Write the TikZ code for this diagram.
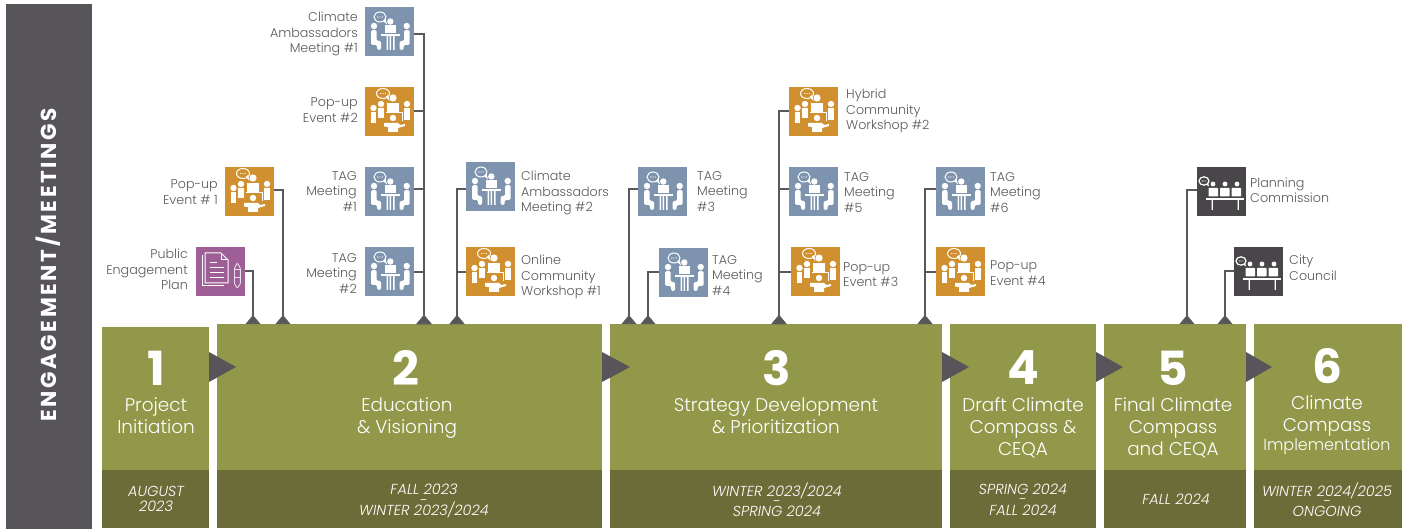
\documentclass[tikz,border=0pt]{standalone}
\usepackage{fontspec}
\setmainfont{Poppins}[UprightFont=* Light,ItalicFont=* Light Italic,BoldFont=* SemiBold]
\newfontfamily\heavyf{Poppins Bold}
\usetikzlibrary{arrows.meta}
\definecolor{side}{HTML}{58555A}
\definecolor{pgreen}{HTML}{929849}
\definecolor{pdark}{HTML}{6C6C38}
\definecolor{iblue}{HTML}{7D93AE}
\definecolor{iorange}{HTML}{D09030}
\definecolor{ipurple}{HTML}{9D5F96}
\definecolor{idark}{HTML}{484648}
\definecolor{txt}{HTML}{5A585C}
\tikzset{
  x=1pt,y=-1pt,
  iconbox/.style={rectangle,minimum width=49pt,minimum height=49pt,inner sep=0pt,outer sep=0pt,anchor=north west},
  conn/.style={draw=txt,line width=1.8pt,-{Triangle[reversed,length=9pt,width=14.5pt,fill=side]}},
  lab/.style={text=txt,inner sep=0pt,yshift=-2.7pt,font=\fontsize{12.7}{15.5}\selectfont,execute at begin node=\strut,execute at end node=\strut},
  labr/.style={lab,anchor=east,align=right},
  labl/.style={lab,anchor=west,align=left},
  phase/.style={rectangle,fill=pgreen,inner sep=0pt,outer sep=0pt,anchor=north west},
  datebox/.style={rectangle,fill=pdark,inner sep=0pt,outer sep=0pt,anchor=north west},
  num/.style={text=white,inner sep=0pt,font=\heavyf\fontsize{47}{47}\selectfont},
  ttl/.style={text=white,inner sep=0pt,yshift=-3.3pt,font=\fontsize{18.4}{22}\selectfont,align=center,execute at begin node=\strut,execute at end node=\strut},
  dat/.style={text=white,inner sep=0pt,yshift=-2pt,font=\itshape\fontsize{14.5}{15}\selectfont,align=center,execute at begin node=\strut,execute at end node=\strut},
  chev/.style={fill=side},
  meetblue/.pic={
    \draw[white,line width=1pt,fill=none] (15,10) ellipse (6 and 5);
    \fill[white] (18,14) -- (22,17.5) -- (20.5,12) -- cycle;
    \fill[white] (12.8,10) circle (.7) (15,10) circle (.7) (17.2,10) circle (.7);
    \fill[white] (25.3,14.5) circle (3.2) (9,19) circle (3.2) (41.7,19) circle (3.2);
    \fill[white] (20,18.5) rectangle (31,26);
    \fill[white] (16,27) rectangle (35,29);
    \fill[white] (21.5,29) rectangle (23,43) (24.7,29) rectangle (26.2,43) (28,29) rectangle (29.5,43);
    \fill[white,rounded corners=1.5] (6,23) -- (11.5,23) -- (11.5,34) -- (16,34) -- (16,43) -- (12,43) -- (12,38) -- (6,38) -- cycle;
    \fill[white,rounded corners=1.5] (44.7,23) -- (39.2,23) -- (39.2,34) -- (34.7,34) -- (34.7,43) -- (38.7,43) -- (38.7,38) -- (44.7,38) -- cycle;
  },
  meetorange/.pic={
    \draw[white,line width=1pt,fill=none] (18,6.5) ellipse (6.5 and 5);
    \fill[white] (20.5,10) -- (24.5,14) -- (23,8) -- cycle;
    \fill[white] (15.8,6.5) circle (.6) (18,6.5) circle (.6) (20.2,6.5) circle (.6);
    \fill[white] (28,11) circle (3.6) (16,17) circle (3.2) (8.5,21) circle (3.2) (42,17) circle (3.2) (28,31) circle (3.2);
    \fill[white] (22,16) rectangle (34,25);
    \fill[white] (13,21) rectangle (19,31);
    \fill[white] (6,25.5) rectangle (11,36);
    \fill[white] (39,21.5) rectangle (45,33);
    \draw[white,line width=1pt] (21,26) -- (37,26) -- (37,34);
    \fill[white] (19,36) -- (33,36) -- (35,38) -- (40,37) -- (40,39) -- (33,41) -- (33,45) -- (23,45) -- (23,40) -- (19,39.5) -- cycle;
  },
  docicon/.pic={
    \draw[white,line width=1pt,fill=none,line join=round] (9,6) -- (25,6) -- (32,13) -- (32,36) -- (9,36) -- cycle;
    \draw[white,line width=1pt] (25,6) -- (25,13) -- (32,13);
    \draw[white,line width=1pt] (6.5,8) -- (6.5,38.8) -- (28,38.8);
    \draw[white,line width=1pt] (14,16) -- (21,16) (14,21) -- (28,21) (14,26) -- (28,26) (14,31) -- (28,31);
    \draw[white!80!ipurple,line width=.9pt,line join=round,rounded corners=.8] (38.5,21) -- (41.3,16) -- (44.3,21) -- (44.3,37) -- (41.3,41) -- (38.5,37) -- cycle;
    \draw[white!80!ipurple,line width=.9pt] (38.5,22) -- (44.3,22) (38.5,30) -- (44.3,30);
  },
  council/.pic={
    \draw[white,line width=1.2pt,fill=none] (7,14) ellipse (5 and 4.2);
    \fill[white] (9,17.5) -- (12,19.5) -- (11,15.5) -- cycle;
    \fill[white] (5.2,14) circle (.55) (7,14) circle (.55) (8.8,14) circle (.55);
    \fill[white] (16,17) circle (2.4) (28,17) circle (2.4) (40,17) circle (2.4);
    \fill[white,rounded corners=.7] (11.5,21) rectangle (21,29.5) (23,21) rectangle (32.5,29.5) (34.5,21) rectangle (44,29.5);
    \fill[white] (9,31.5) rectangle (47,33);
    \fill[white] (14.5,33) rectangle (15.8,43) (40.5,33) rectangle (41.8,43);
  },
}
\begin{document}
\begin{tikzpicture}
\useasboundingbox (0,0) rectangle (1408,529);
% sidebar
\node[rectangle,fill=side,inner sep=0pt,outer sep=0pt,minimum width=86pt,minimum height=525pt,anchor=north west] (sidebar) at (6,4) {};
\node[rotate=90,text=white,inner sep=0pt,font=\heavyf\fontsize{21.6}{21.6}\selectfont\addfontfeature{LetterSpace=12}] (sidetxt) at (48,265) {ENGAGEMENT/MEETINGS};
% phases
\node[phase,minimum width=107pt,minimum height=143pt] (p1) at (102,327) {};
\node[phase,minimum width=385pt,minimum height=146pt] (p2) at (217,324) {};
\node[phase,minimum width=332pt,minimum height=146pt] (p3) at (610,324) {};
\node[phase,minimum width=146pt,minimum height=146pt] (p4) at (950,324) {};
\node[phase,minimum width=142pt,minimum height=146pt] (p5) at (1104,324) {};
\node[phase,minimum width=148pt,minimum height=146pt] (p6) at (1254,324) {};
\node[datebox,minimum width=107pt,minimum height=58pt] (d1) at (102,470) {};
\node[datebox,minimum width=385pt,minimum height=58pt] (d2) at (217,470) {};
\node[datebox,minimum width=332pt,minimum height=58pt] (d3) at (610,470) {};
\node[datebox,minimum width=146pt,minimum height=58pt] (d4) at (950,470) {};
\node[datebox,minimum width=142pt,minimum height=58pt] (d5) at (1104,470) {};
\node[datebox,minimum width=148pt,minimum height=58pt] (d6) at (1254,470) {};
% chevrons between phases
\fill[chev] (209,352) -- (236,367) -- (209,382) -- cycle;
\fill[chev] (602,352) -- (630,367) -- (602,382) -- cycle;
\fill[chev] (942,352) -- (969,367) -- (942,382) -- cycle;
\fill[chev] (1096,352) -- (1123,367) -- (1096,382) -- cycle;
\fill[chev] (1246,352) -- (1272,367) -- (1246,382) -- cycle;
% phase text
\node[num] (n1) at (156,368) {1};
\node[num] (n2) at (406,368) {2};
\node[num] (n3) at (777,368) {3};
\node[num] (n4) at (1023,368) {4};
\node[num] (n5) at (1173,368) {5};
\node[num] (n6) at (1327,366) {6};
\node[ttl] (t1) at (156,416) {Project\\Initiation};
\node[ttl] (t2) at (407,416) {Education\\\& Visioning};
\node[ttl] (t3) at (776,416) {Strategy Development\\\& Prioritization};
\node[ttl] (t4) at (1023,427) {Draft Climate\\Compass \&\\CEQA};
\node[ttl] (t5) at (1173,427) {Final Climate\\Compass\\and CEQA};
\node[ttl] (t6a) at (1327,414) {Climate\\Compass};
\node[ttl,font=\fontsize{16}{18}\selectfont] (t6b) at (1327,444) {Implementation};
\node[dat] (e1) at (156,499.5) {AUGUST\\2023};
\node[dat] (e2) at (424,500) {FALL 2023\\[-4.6pt]-\\[-4.6pt]WINTER 2023/2024};
\node[dat] (e3) at (777,500) {WINTER 2023/2024\\[-4.6pt]-\\[-4.6pt]SPRING 2024};
\node[dat] (e4) at (1023,500) {SPRING 2024\\[-4.6pt]-\\[-4.6pt]FALL 2024};
\node[dat] (e5) at (1176,499) {FALL 2024};
\node[dat] (e6) at (1327,500) {WINTER 2024/2025\\[-4.6pt]-\\[-4.6pt]ONGOING};
% icon boxes
\node[iconbox,fill=ipurple] (pep) at (196,247) {};
\node[iconbox,fill=iorange] (pop1) at (225,167) {};
\node[iconbox,fill=iblue] (amb1) at (365,7) {};
\node[iconbox,fill=iorange] (pop2) at (365,87) {};
\node[iconbox,fill=iblue] (tag1) at (365,167) {};
\node[iconbox,fill=iblue] (tag2) at (365,247) {};
\node[iconbox,fill=iblue] (amb2) at (466,162) {};
\node[iconbox,fill=iorange] (work1) at (466,247) {};
\node[iconbox,fill=iblue] (tag3) at (638,167) {};
\node[iconbox,fill=iblue] (tag4) at (659,248) {};
\node[iconbox,fill=iorange] (work2) at (789,87) {};
\node[iconbox,fill=iblue] (tag5) at (789,167) {};
\node[iconbox,fill=iorange] (pop3) at (791,247) {};
\node[iconbox,fill=iblue] (tag6) at (936,167) {};
\node[iconbox,fill=iorange] (pop4) at (936,247) {};
\node[iconbox,fill=idark] (plan) at (1197,167) {};
\node[iconbox,fill=idark] (city) at (1234,247) {};
% icon drawings
\pic at (196,247) {docicon};
\pic at (225,167) {meetorange};
\pic at (365,7) {meetblue};
\pic at (365,87) {meetorange};
\pic at (365,167) {meetblue};
\pic at (365,247) {meetblue};
\pic at (466,162) {meetblue};
\pic at (466,247) {meetorange};
\pic at (638,167) {meetblue};
\pic at (659,248) {meetblue};
\pic at (789,87) {meetorange};
\pic at (789,167) {meetblue};
\pic at (791,247) {meetorange};
\pic at (936,167) {meetblue};
\pic at (936,247) {meetorange};
\pic at (1197,167) {council};
\pic at (1234,247) {council};
% connector ends on the phase bars
\coordinate (a1) at (253,324);
\coordinate (a2) at (283,324);
\coordinate (a3) at (424,324);
\coordinate (a4) at (457,324);
\coordinate (a5) at (629,324);
\coordinate (a6) at (648,324);
\coordinate (a7) at (779,324);
\coordinate (a8) at (925,324);
\coordinate (a9) at (1187,324);
\coordinate (a10) at (1225,324);
% connectors
\draw[conn] ([yshift=0.5pt]pep.east) -| (a1);
\draw[conn] ([yshift=1.5pt]pop1.east) -| (a2);
\draw[conn] ([yshift=-2.5pt]amb1.east) -| (a3);
\draw[conn] ([yshift=0.5pt]pop2.east) -| (a3);
\draw[conn] ([yshift=2.5pt]tag1.east) -| (a3);
\draw[conn] ([yshift=-0.5pt]tag2.east) -| (a3);
\draw[conn] ([yshift=-2.5pt]amb2.west) -| (a4);
\draw[conn] ([yshift=-0.5pt]work1.west) -| (a4);
\draw[conn] ([yshift=2.5pt]tag3.west) -| (a5);
\draw[conn] ([yshift=0.5pt]tag4.west) -| (a6);
\draw[conn] ([yshift=0.5pt]work2.west) -| (a7);
\draw[conn] ([yshift=2.5pt]tag5.west) -| (a7);
\draw[conn] ([yshift=-0.5pt]pop3.west) -| (a7);
\draw[conn] ([yshift=2.5pt]tag6.west) -| (a8);
\draw[conn] ([yshift=-0.5pt]pop4.west) -| (a8);
\draw[conn] ([yshift=1.5pt]plan.west) -| (a9);
\draw[conn] ([yshift=0.5pt]city.west) -| (a10);
% labels
\node[labr] (lamb1) at (358,32) {Climate\\Ambassadors\\Meeting \#1};
\node[labr] (lpop2) at (358,109.5) {Pop-up\\Event \#2};
\node[labr] (ltag1) at (357,191) {TAG\\Meeting\\\#1};
\node[labr] (ltag2) at (357,273) {TAG\\Meeting\\\#2};
\node[labr] (lpop1) at (218,191.5) {Pop-up\\Event \# 1};
\node[labr] (lpep) at (188,269) {Public\\Engagement\\Plan};
\node[labl] (lamb2) at (521,191) {Climate\\Ambassadors\\Meeting \#2};
\node[labl] (lwork1) at (521,275) {Online\\Community\\Workshop \#1};
\node[labl] (ltag3) at (697,191) {TAG\\Meeting\\\#3};
\node[labl] (ltag4) at (712,275) {TAG\\Meeting\\\#4};
\node[labl] (lwork2) at (846,109) {Hybrid\\Community\\Workshop \#2};
\node[labl] (ltag5) at (844,192) {TAG\\Meeting\\\#5};
\node[labl] (lpop3) at (843,274) {Pop-up\\Event \#3};
\node[labl] (ltag6) at (990,192) {TAG\\Meeting\\\#6};
\node[labl] (lpop4) at (990,272.5) {Pop-up\\Event \#4};
\node[labl] (lplan) at (1250,190) {Planning\\Commission};
\node[labl] (lcity) at (1289,267.5) {City\\Council};
\end{tikzpicture}
\end{document}
